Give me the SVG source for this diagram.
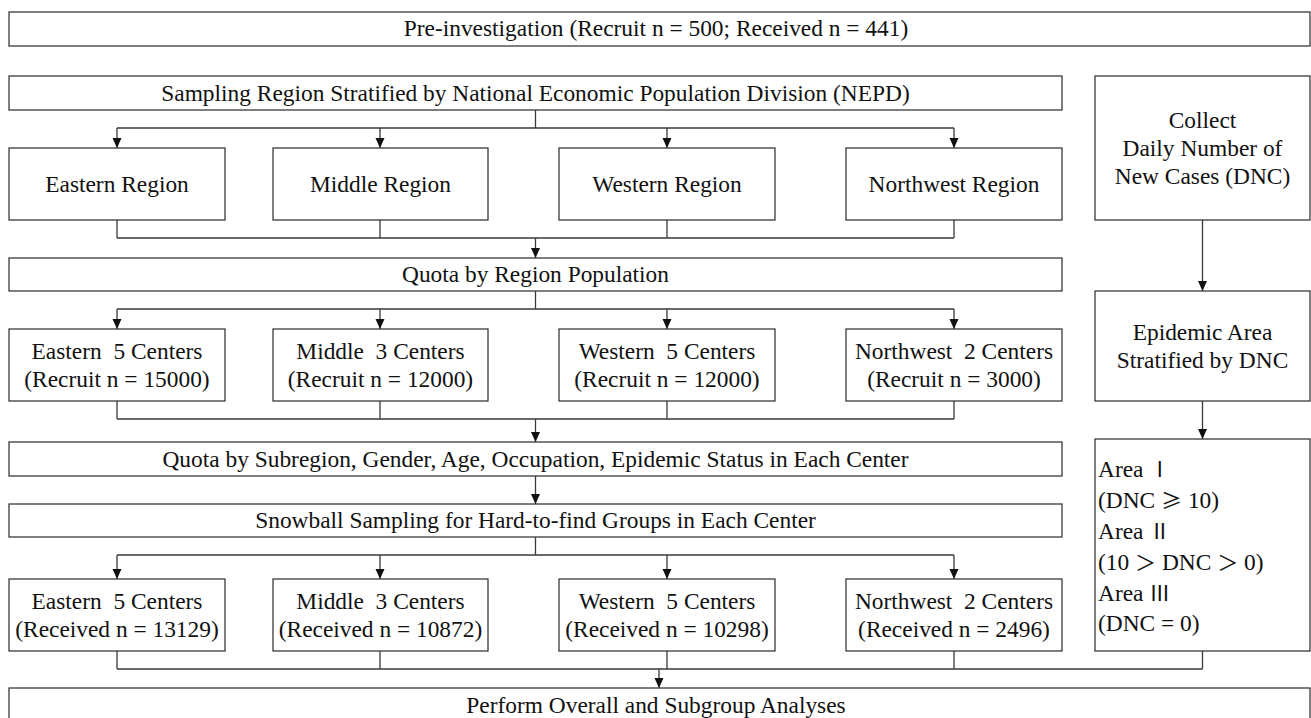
<svg xmlns="http://www.w3.org/2000/svg" width="1311" height="718" viewBox="0 0 1311 718">
<style>
  .box { fill: #ffffff; stroke: #3a3a3a; stroke-width: 1.3; }
  .t { font-family: "Liberation Serif", "Times New Roman", "Noto Sans CJK SC", serif; font-size: 23.4px; fill: #111; text-anchor: middle; white-space: pre; }
  .tl { font-family: "Liberation Serif", "Times New Roman", "Noto Sans CJK SC", serif; font-size: 23.4px; fill: #111; white-space: pre; }
  .cjk { font-family: "Noto Sans CJK SC", sans-serif; font-size: 21px; }
  .ln { fill: none; stroke: #3a3a3a; stroke-width: 1.3; }
  .ah { fill: #111; }
</style>
<rect width="1311" height="718" fill="#ffffff"/>

<g id="connectors">
  <path class="ln" d="M535.5,110 V128 M117,128 H954"/>
  <path class="ln" d="M117,128 V148 M380,128 V148 M667,128 V148 M954,128 V148"/>
  <path class="ln" d="M117,220 V238 M380,220 V238 M667,220 V238 M954,220 V238 M117,238 H954 M535.5,238 V258"/>
  <path class="ln" d="M535.5,291 V309 M117,309 H954 M117,309 V329 M380,309 V329 M667,309 V329 M954,309 V329"/>
  <path class="ln" d="M117,401 V419 M380,401 V419 M667,401 V419 M954,401 V419 M117,419 H954 M535.5,419 V442"/>
  <path class="ln" d="M535.5,476 V504"/>
  <path class="ln" d="M535.5,537 V555 M117,555 H954 M117,555 V579 M380,555 V579 M667,555 V579 M954,555 V579"/>
  <path class="ln" d="M117,651 V669 M380,651 V669 M667,651 V669 M954,651 V669 M1202.5,651 V669 M117,669 H1202.5 M659,669 V688"/>
  <path class="ln" d="M1202.5,220 V291 M1202.5,401 V439"/>
  <g class="ah">
    <path d="M112.5,138 L121.5,138 L117,148 Z"/>
    <path d="M375.5,138 L384.5,138 L380,148 Z"/>
    <path d="M662.5,138 L671.5,138 L667,148 Z"/>
    <path d="M949.5,138 L958.5,138 L954,148 Z"/>
    <path d="M531,248 L540,248 L535.5,258 Z"/>
    <path d="M112.5,319 L121.5,319 L117,329 Z"/>
    <path d="M375.5,319 L384.5,319 L380,329 Z"/>
    <path d="M662.5,319 L671.5,319 L667,329 Z"/>
    <path d="M949.5,319 L958.5,319 L954,329 Z"/>
    <path d="M531,432 L540,432 L535.5,442 Z"/>
    <path d="M531,494 L540,494 L535.5,504 Z"/>
    <path d="M112.5,569 L121.5,569 L117,579 Z"/>
    <path d="M375.5,569 L384.5,569 L380,579 Z"/>
    <path d="M662.5,569 L671.5,569 L667,579 Z"/>
    <path d="M949.5,569 L958.5,569 L954,579 Z"/>
    <path d="M654.5,678 L663.5,678 L659,688 Z"/>
    <path d="M1198,281 L1207,281 L1202.5,291 Z"/>
    <path d="M1198,429 L1207,429 L1202.5,439 Z"/>
  </g>
</g>

<g id="pre">
  <rect class="box" x="9" y="12" width="1301" height="34"/>
  <text class="t" x="656" y="36">Pre-investigation (Recruit n = 500; Received n = 441)</text>
</g>
<g id="nepd">
  <rect class="box" x="9" y="76" width="1053" height="34"/>
  <text class="t" x="535.5" y="101">Sampling Region Stratified by National Economic Population Division (NEPD)</text>
</g>
<g id="eastern-region">
  <rect class="box" x="9" y="148" width="216" height="72"/>
  <text class="t" x="117" y="192">Eastern Region</text>
</g>
<g id="middle-region">
  <rect class="box" x="273" y="148" width="215" height="72"/>
  <text class="t" x="380.5" y="192">Middle Region</text>
</g>
<g id="western-region">
  <rect class="box" x="559" y="148" width="216" height="72"/>
  <text class="t" x="667" y="192">Western Region</text>
</g>
<g id="northwest-region">
  <rect class="box" x="846" y="148" width="216" height="72"/>
  <text class="t" x="954" y="192">Northwest Region</text>
</g>
<g id="quota-region">
  <rect class="box" x="9" y="258" width="1053" height="33"/>
  <text class="t" x="535.5" y="282">Quota by Region Population</text>
</g>
<g id="eastern-recruit">
  <rect class="box" x="9" y="329" width="216" height="72"/>
  <text class="t" x="117" y="359">Eastern  5 Centers</text>
  <text class="t" x="117" y="387">(Recruit n = 15000)</text>
</g>
<g id="middle-recruit">
  <rect class="box" x="273" y="329" width="215" height="72"/>
  <text class="t" x="380.5" y="359">Middle  3 Centers</text>
  <text class="t" x="380.5" y="387">(Recruit n = 12000)</text>
</g>
<g id="western-recruit">
  <rect class="box" x="559" y="329" width="216" height="72"/>
  <text class="t" x="667" y="359">Western  5 Centers</text>
  <text class="t" x="667" y="387">(Recruit n = 12000)</text>
</g>
<g id="northwest-recruit">
  <rect class="box" x="846" y="329" width="216" height="72"/>
  <text class="t" x="954" y="359">Northwest  2 Centers</text>
  <text class="t" x="954" y="387">(Recruit n = 3000)</text>
</g>
<g id="quota-subregion">
  <rect class="box" x="9" y="442" width="1053" height="34"/>
  <text class="t" x="535.5" y="467">Quota by Subregion, Gender, Age, Occupation, Epidemic Status in Each Center</text>
</g>
<g id="snowball">
  <rect class="box" x="9" y="504" width="1053" height="33"/>
  <text class="t" x="535.5" y="528">Snowball Sampling for Hard-to-find Groups in Each Center</text>
</g>
<g id="eastern-received">
  <rect class="box" x="9" y="579" width="216" height="72"/>
  <text class="t" x="117" y="609">Eastern  5 Centers</text>
  <text class="t" x="117" y="637">(Received n = 13129)</text>
</g>
<g id="middle-received">
  <rect class="box" x="273" y="579" width="215" height="72"/>
  <text class="t" x="380.5" y="609">Middle  3 Centers</text>
  <text class="t" x="380.5" y="637">(Received n = 10872)</text>
</g>
<g id="western-received">
  <rect class="box" x="559" y="579" width="216" height="72"/>
  <text class="t" x="667" y="609">Western  5 Centers</text>
  <text class="t" x="667" y="637">(Received n = 10298)</text>
</g>
<g id="northwest-received">
  <rect class="box" x="846" y="579" width="216" height="72"/>
  <text class="t" x="954" y="609">Northwest  2 Centers</text>
  <text class="t" x="954" y="637">(Received n = 2496)</text>
</g>
<g id="analyses">
  <rect class="box" x="9" y="688" width="1301" height="40"/>
  <text class="t" x="656" y="713">Perform Overall and Subgroup Analyses</text>
</g>
<g id="collect">
  <rect class="box" x="1095" y="76" width="215" height="144"/>
  <text class="t" x="1202.5" y="128">Collect</text>
  <text class="t" x="1202.5" y="156">Daily Number of</text>
  <text class="t" x="1202.5" y="184">New Cases (DNC)</text>
</g>
<g id="epidemic-area">
  <rect class="box" x="1095" y="291" width="215" height="110"/>
  <text class="t" x="1202.5" y="340">Epidemic Area</text>
  <text class="t" x="1202.5" y="368">Stratified by DNC</text>
</g>
<g id="area-levels">
  <rect class="box" x="1095" y="439" width="215" height="212"/>
  <text class="tl" x="1098" y="477">Area <tspan class="cjk">Ⅰ</tspan></text>
  <text class="tl" x="1098" y="508">(DNC <tspan class="cjk">≥</tspan> 10)</text>
  <text class="tl" x="1098" y="539">Area <tspan class="cjk">Ⅱ</tspan></text>
  <text class="tl" x="1098" y="570">(10 <tspan class="cjk">＞</tspan> DNC <tspan class="cjk">＞</tspan> 0)</text>
  <text class="tl" x="1098" y="601">Area <tspan class="cjk">Ⅲ</tspan></text>
  <text class="tl" x="1098" y="631">(DNC = 0)</text>
</g>
</svg>
